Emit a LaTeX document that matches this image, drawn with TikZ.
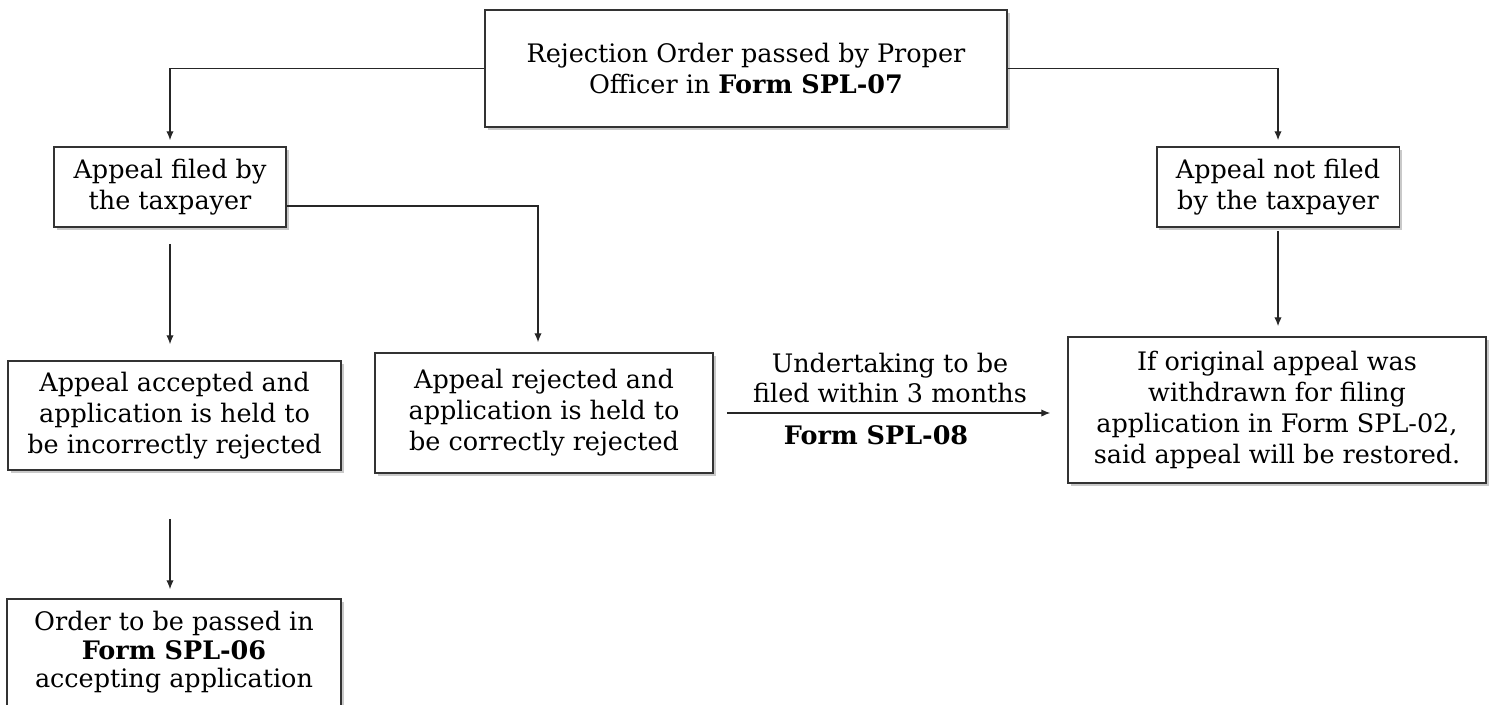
\documentclass[tikz,border=0pt]{standalone}
\usepackage{fontspec}
\setmainfont{DejaVu Serif}
\usepackage{tikz}
\usetikzlibrary{arrows.meta, positioning, shadows}

\begin{document}
\begin{tikzpicture}[x=0.02cm, y=-0.02cm,
    box/.style={draw=black!80, line width=1.1pt, fill=white, align=center,
        inner sep=2pt, font=\fontsize{14.5}{17.6}\selectfont,
        drop shadow={shadow xshift=1.6pt, shadow yshift=-1.6pt, fill=black!30, opacity=0.7}},
    arr/.style={-{Latex[length=5pt, width=4.2pt]}, black!85, line width=0.6pt},
    lbl/.style={align=center, font=\fontsize{14.5}{17.6}\selectfont}]
    \useasboundingbox (0,0) rectangle (1490,704);

    % Boxes
    \node[box, minimum width=10.44cm, minimum height=2.34cm] (reject) at (746,68.5)
        {Rejection Order passed by Proper\\Officer in \textbf{Form SPL-07}};
    \node[box, minimum width=4.64cm, minimum height=1.6cm] (filed) at (170,187)
        {Appeal filed by\\the taxpayer};
    \node[box, minimum width=4.86cm, minimum height=1.6cm] (notfiled) at (1278,187)
        {Appeal not filed\\by the taxpayer};
    \node[box, minimum width=6.66cm, minimum height=2.18cm] (accepted) at (174.5,415.5)
        {Appeal accepted and\\application is held to\\be incorrectly rejected};
    \node[box, minimum width=6.76cm, minimum height=2.4cm] (rejected) at (544,413)
        {Appeal rejected and\\application is held to\\be correctly rejected};
    \node[box, minimum width=8.36cm, minimum height=2.92cm] (restored) at (1277,410)
        {If original appeal was\\withdrawn for filing\\application in Form SPL-02,\\said appeal will be restored.};
    \node[box, minimum width=6.68cm, minimum height=2.14cm, font=\fontsize{14.5}{16.2}\selectfont] (order) at (174,652.5)
        {Order to be passed in\\\textbf{Form SPL-06}\\accepting application};

    % Texts along the undertaking arrow
    \node[lbl] (undertaking) at (890,378) {Undertaking to be\\filed within 3 months};
    \node[lbl] (spl08) at (876,435) {\textbf{Form SPL-08}};

    % Connectors
    \draw[arr, shorten >=0.12cm] (reject.west) -| (filed.north);
    \draw[arr, shorten >=0.12cm] (reject.east) -| (notfiled.north);
    \draw[arr, shorten <=0.32cm, shorten >=0.32cm] (filed.south) -- (filed.south |- accepted.north);
    \draw[arr, shorten >=0.2cm] ([yshift=-0.38cm]filed.east) -| ([xshift=-0.12cm]rejected.north);
    \draw[arr, shorten <=0.96cm, shorten >=0.18cm] (filed.south |- accepted.south) -- (filed.south |- order.north);
    \draw[arr, shorten <=0.06cm, shorten >=0.2cm] (notfiled.south) -- (notfiled.south |- restored.north);
    \draw[arr, shorten <=0.26cm, shorten >=0.34cm] (rejected.east) -- (rejected.east -| restored.west);
\end{tikzpicture}
\end{document}
